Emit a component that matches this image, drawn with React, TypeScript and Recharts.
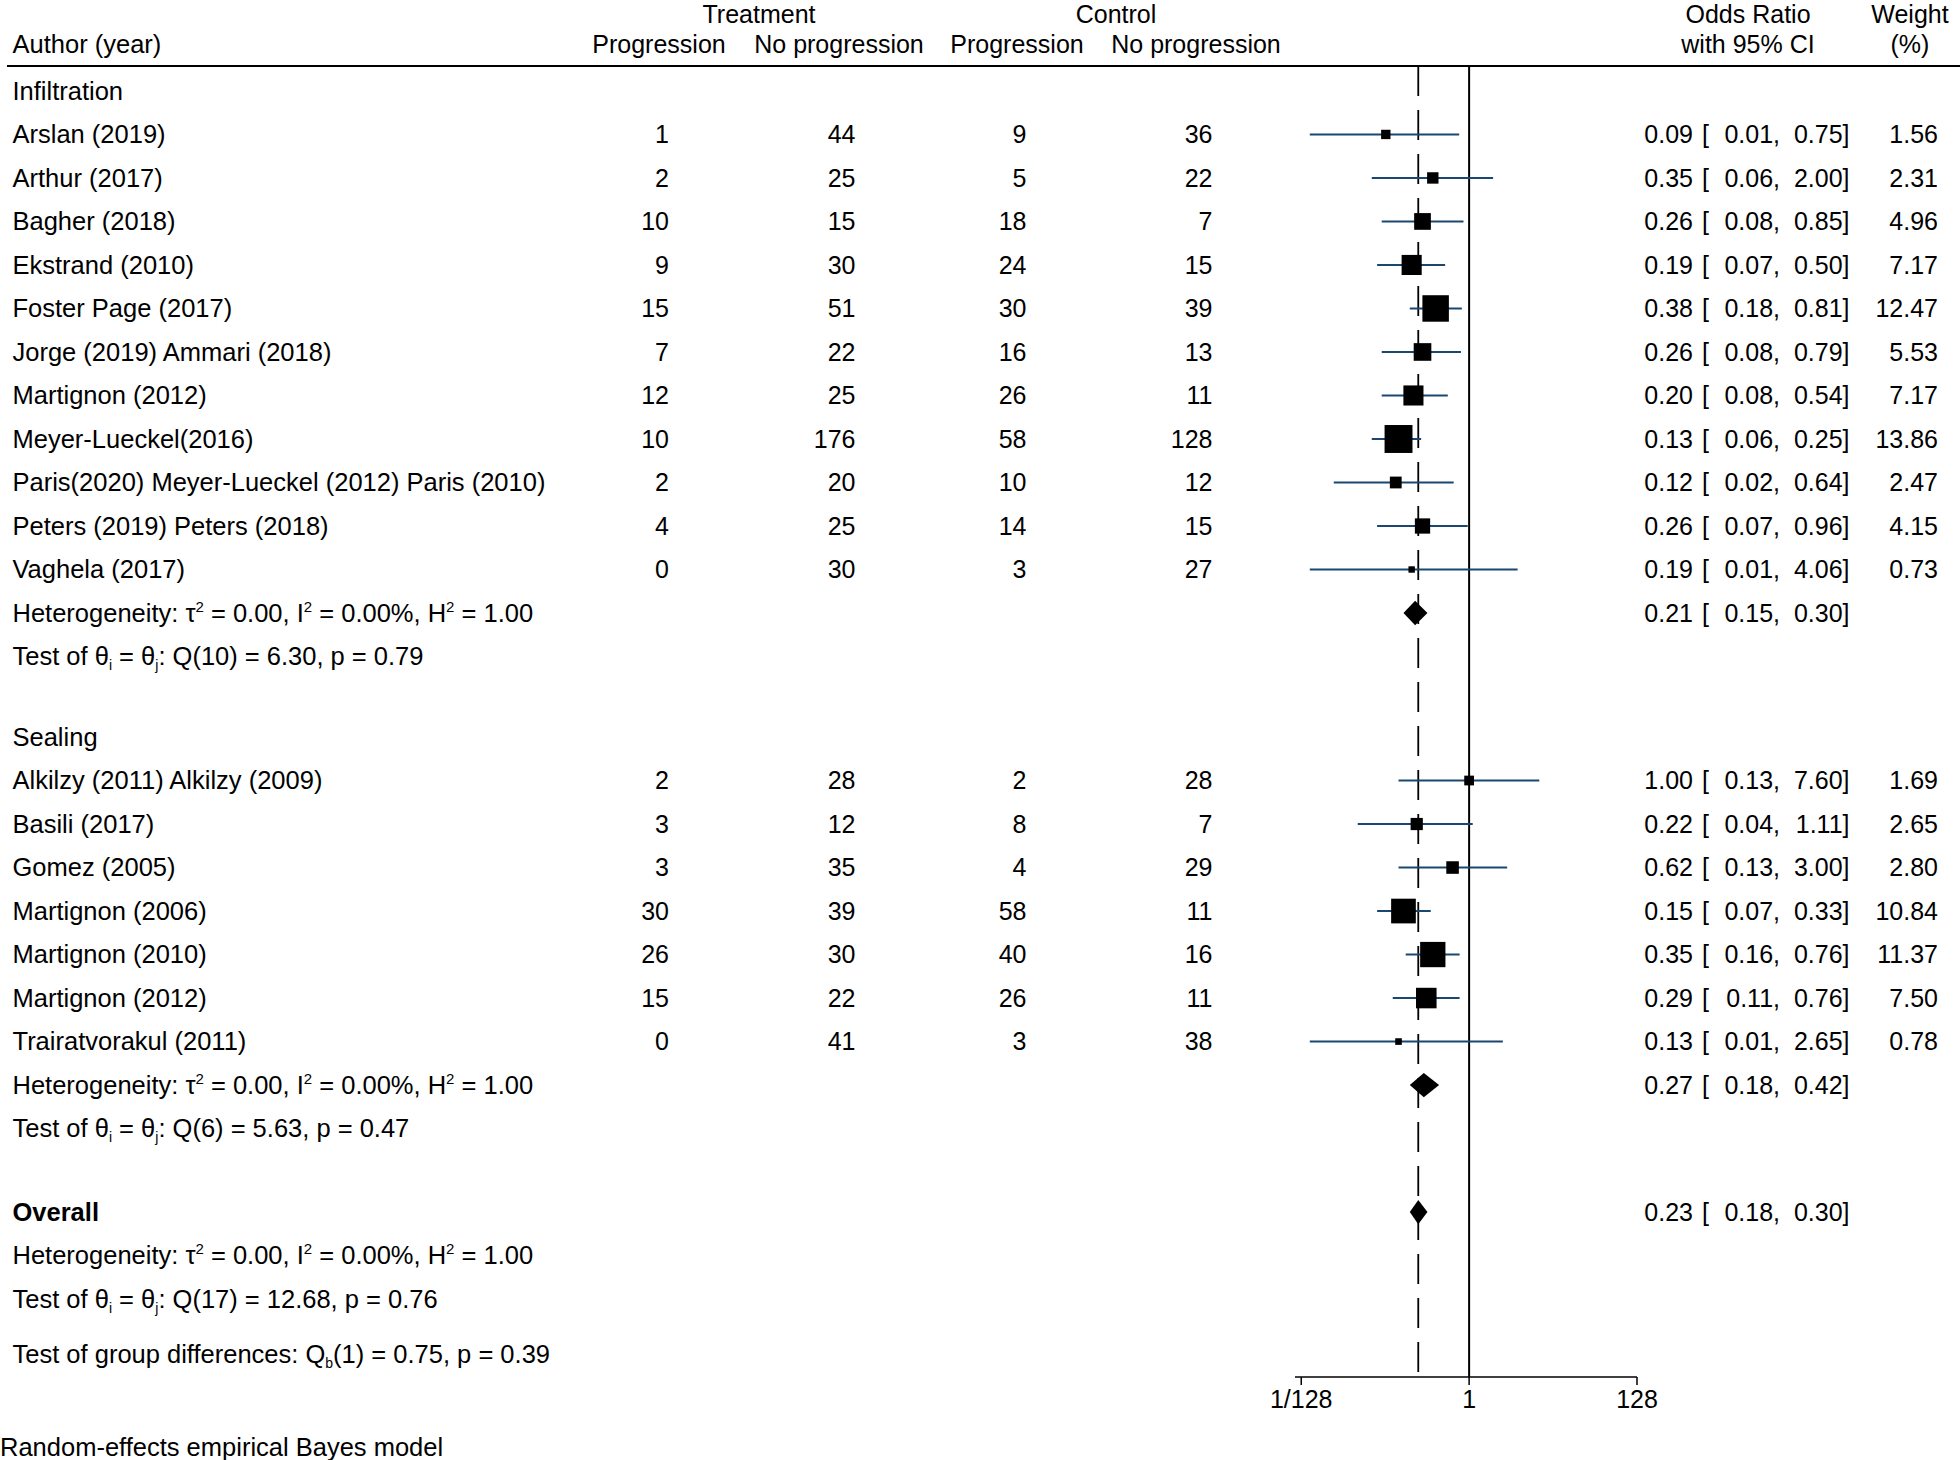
import React from "react";
import {
  ScatterChart,
  Scatter,
  XAxis,
  YAxis,
  ErrorBar,
  ReferenceLine,
  ReferenceArea,
} from "recharts";

const W = 1960;
const H = 1460;
const FONT = '"Liberation Sans", Arial, Helvetica, sans-serif';
const FS = 25;
const FS_LEFT = 25.5;
const CI_BLUE = "#1a476f";

// header texts
const colGroupLabels = ["Treatment", "Control"];
const colLabels = ["Progression", "No progression", "Progression", "No progression"];
const authorLabel = "Author (year)";
const ciLabels = ["Odds Ratio", "with 95% CI"];
const weightLabels = ["Weight", "(%)"];

// Infiltration
const infStudies = [
  "Arslan (2019)",
  "Arthur (2017)",
  "Bagher (2018)",
  "Ekstrand (2010)",
  "Foster Page (2017)",
  "Jorge (2019) Ammari (2018)",
  "Martignon (2012)",
  "Meyer-Lueckel(2016)",
  "Paris(2020) Meyer-Lueckel (2012) Paris (2010)",
  "Peters (2019) Peters (2018)",
  "Vaghela (2017)",
];
const infTreatProg = [1, 2, 10, 9, 15, 7, 12, 10, 2, 4, 0];
const infTreatNo = [44, 25, 15, 30, 51, 22, 25, 176, 20, 25, 30];
const infCtrlProg = [9, 5, 18, 24, 30, 16, 26, 58, 10, 14, 3];
const infCtrlNo = [36, 22, 7, 15, 39, 13, 11, 128, 12, 15, 27];
const infOR = [0.09, 0.35, 0.26, 0.19, 0.38, 0.26, 0.2, 0.13, 0.12, 0.26, 0.19];
const infLo = [0.01, 0.06, 0.08, 0.07, 0.18, 0.08, 0.08, 0.06, 0.02, 0.07, 0.01];
const infHi = [0.75, 2.0, 0.85, 0.5, 0.81, 0.79, 0.54, 0.25, 0.64, 0.96, 4.06];
const infWeight = [1.56, 2.31, 4.96, 7.17, 12.47, 5.53, 7.17, 13.86, 2.47, 4.15, 0.73];

// Sealing
const sealStudies = [
  "Alkilzy (2011) Alkilzy (2009)",
  "Basili (2017)",
  "Gomez (2005)",
  "Martignon (2006)",
  "Martignon (2010)",
  "Martignon (2012)",
  "Trairatvorakul (2011)",
];
const sealTreatProg = [2, 3, 3, 30, 26, 15, 0];
const sealTreatNo = [28, 12, 35, 39, 30, 22, 41];
const sealCtrlProg = [2, 8, 4, 58, 40, 26, 3];
const sealCtrlNo = [28, 7, 29, 11, 16, 11, 38];
const sealOR = [1.0, 0.22, 0.62, 0.15, 0.35, 0.29, 0.13];
const sealLo = [0.13, 0.04, 0.13, 0.07, 0.16, 0.11, 0.01];
const sealHi = [7.6, 1.11, 3.0, 0.33, 0.76, 0.76, 2.65];
const sealWeight = [1.69, 2.65, 2.8, 10.84, 11.37, 7.5, 0.78];

// subgroup summaries
const groupNames = ["Infiltration", "Sealing"];
const groupOR = [0.21, 0.27];
const groupLo = [0.15, 0.18];
const groupHi = [0.3, 0.42];
const groupTau2 = [0.0, 0.0];
const groupI2 = [0.0, 0.0];
const groupH2 = [1.0, 1.0];
const groupQdf = [10, 6];
const groupQ = [6.3, 5.63];
const groupP = [0.79, 0.47];

// overall
const overallLabel = "Overall";
const overallOR = 0.23;
const overallLo = 0.18;
const overallHi = 0.3;
const overallTau2 = 0.0;
const overallI2 = 0.0;
const overallH2 = 1.0;
const overallQdf = 17;
const overallQ = 12.68;
const overallP = 0.76;
const diffDf = 1;
const diffQ = 0.75;
const diffP = 0.39;

// axis (log2 odds ratio)
const axisTicks = [-7, 0, 7];
const axisTickLabels = ["1/128", "1", "128"];
const footnote = "Random-effects empirical Bayes model";

// layout, in row units
const ROW_TOP = -2.09;
const ROW_BOTTOM = 29.56;
const HEAD1_ROW = -1.76;
const HEAD2_ROW = -1.08;
const RULE_ROW = -0.574;
const GAP_GROUP = 0.85;
const GAP_OVERALL = 0.92;
const GAP_DIFF = 0.27;
const DIAMOND_HALF = 0.28;
const SQ_K = 7.5;

const COUNT_X = [669, 855.5, 1026.5, 1212.5];
const LEFT_X = 12.5;
const BASE = FS * 0.35;

const f2 = (v: number) => v.toFixed(2);

const groups = [
  { studies: infStudies, tp: infTreatProg, tn: infTreatNo, cp: infCtrlProg, cn: infCtrlNo, or: infOR, lo: infLo, hi: infHi, w: infWeight },
  { studies: sealStudies, tp: sealTreatProg, tn: sealTreatNo, cp: sealCtrlProg, cn: sealCtrlNo, or: sealOR, lo: sealLo, hi: sealHi, w: sealWeight },
];

type Seg = { t: string; sup?: boolean; sub?: boolean };

const hetSegs = (t2: number, i2: number, h2: number): Seg[] => [
  { t: "Heterogeneity: \u03c4" },
  { t: "2", sup: true },
  { t: ` = ${f2(t2)}, I` },
  { t: "2", sup: true },
  { t: ` = ${f2(i2)}%, H` },
  { t: "2", sup: true },
  { t: ` = ${f2(h2)}` },
];
const testSegs = (df: number, q: number, p: number): Seg[] => [
  { t: "Test of \u03b8" },
  { t: "i", sub: true },
  { t: " = \u03b8" },
  { t: "j", sub: true },
  { t: `: Q(${df}) = ${f2(q)}, p = ${f2(p)}` },
];
const diffSegs: Seg[] = [
  { t: "Test of group differences: Q" },
  { t: "b", sub: true },
  { t: `(${diffDf}) = ${f2(diffQ)}, p = ${f2(diffP)}` },
];

const textRows: any[] = [
  { x: 0, y: HEAD1_ROW, kind: "head1" },
  { x: 0, y: HEAD2_ROW, kind: "head2" },
  { x: 0, y: RULE_ROW, kind: "rule" },
];
const studyPoints: any[] = [];
const diamonds: any[] = [];

let r = 0;
groups.forEach((g, gi) => {
  if (gi > 0) r += GAP_GROUP;
  textRows.push({ x: 0, y: r, kind: "title", label: groupNames[gi] });
  r += 1;
  g.studies.forEach((name, i) => {
    const lx = Math.log2(g.or[i]);
    textRows.push({
      x: 0, y: r, kind: "study", label: name,
      counts: [g.tp[i], g.tn[i], g.cp[i], g.cn[i]],
      est: g.or[i], lo: g.lo[i], hi: g.hi[i], w: g.w[i],
    });
    studyPoints.push({ x: lx, y: r, w: g.w[i], err: [lx - Math.log2(g.lo[i]), Math.log2(g.hi[i]) - lx] });
    r += 1;
  });
  textRows.push({ x: 0, y: r, kind: "rich", segs: hetSegs(groupTau2[gi], groupI2[gi], groupH2[gi]), est: groupOR[gi], lo: groupLo[gi], hi: groupHi[gi] });
  diamonds.push({ y: r, est: groupOR[gi], lo: groupLo[gi], hi: groupHi[gi] });
  r += 1;
  textRows.push({ x: 0, y: r, kind: "rich", segs: testSegs(groupQdf[gi], groupQ[gi], groupP[gi]) });
  r += 1;
});
r += GAP_OVERALL;
textRows.push({ x: 0, y: r, kind: "title", bold: true, label: overallLabel, est: overallOR, lo: overallLo, hi: overallHi });
diamonds.push({ y: r, est: overallOR, lo: overallLo, hi: overallHi });
r += 1;
textRows.push({ x: 0, y: r, kind: "rich", segs: hetSegs(overallTau2, overallI2, overallH2) });
r += 1;
textRows.push({ x: 0, y: r, kind: "rich", segs: testSegs(overallQdf, overallQ, overallP) });
r += 1;
r += GAP_DIFF;
textRows.push({ x: 0, y: r, kind: "rich", segs: diffSegs });

function RichText({ x, y, segs }: { x: number; y: number; segs: Seg[] }) {
  let off = 0;
  return (
    <text x={x} y={y} fontSize={FS_LEFT} style={{ whiteSpace: "pre" }}>
      {segs.map((s, i) => {
        const target = s.sup ? -10 : s.sub ? 5 : 0;
        const d = target - off;
        off = target;
        return (
          <tspan key={i} dy={d} fontSize={s.sup ? 15 : s.sub ? 14 : FS_LEFT}>
            {s.t}
          </tspan>
        );
      })}
    </text>
  );
}

function CiText({ y, est, lo, hi }: { y: number; est: number; lo: number; hi: number }) {
  return (
    <>
      <text x={1693} y={y} textAnchor="end">{f2(est)}</text>
      <text x={1702} y={y}>[</text>
      <text x={1780} y={y} textAnchor="end">{f2(lo)},</text>
      <text x={1849.5} y={y} textAnchor="end">{f2(hi)}]</text>
    </>
  );
}

function TextShape(props: any) {
  const { cy, payload: d } = props;
  const y = cy + BASE;
  let body: React.ReactNode = null;
  if (d.kind === "head1") {
    body = (
      <>
        <text x={759} y={y} textAnchor="middle">{colGroupLabels[0]}</text>
        <text x={1116} y={y} textAnchor="middle">{colGroupLabels[1]}</text>
        <text x={1748} y={y} textAnchor="middle">{ciLabels[0]}</text>
        <text x={1910} y={y} textAnchor="middle">{weightLabels[0]}</text>
      </>
    );
  } else if (d.kind === "head2") {
    const cx = [659, 839, 1017, 1196];
    body = (
      <>
        <text x={LEFT_X} y={y} fontSize={FS_LEFT}>{authorLabel}</text>
        {colLabels.map((l, i) => (
          <text key={i} x={cx[i]} y={y} textAnchor="middle">{l}</text>
        ))}
        <text x={1748} y={y} textAnchor="middle">{ciLabels[1]}</text>
        <text x={1910} y={y} textAnchor="middle">{weightLabels[1]}</text>
      </>
    );
  } else if (d.kind === "rule") {
    body = <line x1={7} x2={W} y1={cy} y2={cy} stroke="#000" strokeWidth={2} />;
  } else if (d.kind === "title") {
    body = (
      <>
        <text x={LEFT_X} y={y} fontSize={FS_LEFT} fontWeight={d.bold ? "bold" : "normal"}>{d.label}</text>
        {d.est != null && <CiText y={y} est={d.est} lo={d.lo} hi={d.hi} />}
      </>
    );
  } else if (d.kind === "study") {
    body = (
      <>
        <text x={LEFT_X} y={y} fontSize={FS_LEFT}>{d.label}</text>
        {d.counts.map((c: number, i: number) => (
          <text key={i} x={COUNT_X[i]} y={y} textAnchor="end">{c}</text>
        ))}
        <CiText y={y} est={d.est} lo={d.lo} hi={d.hi} />
        <text x={1938} y={y} textAnchor="end">{f2(d.w)}</text>
      </>
    );
  } else if (d.kind === "rich") {
    body = (
      <>
        <RichText x={LEFT_X} y={y} segs={d.segs} />
        {d.est != null && <CiText y={y} est={d.est} lo={d.lo} hi={d.hi} />}
      </>
    );
  }
  return (
    <g fontFamily={FONT} fontSize={FS} fill="#000">
      {body}
    </g>
  );
}

function Square(props: any) {
  const s = SQ_K * Math.sqrt(props.payload.w);
  return <rect x={props.cx - s / 2} y={props.cy - s / 2} width={s} height={s} fill="#000" />;
}

function diamondShape(frac: number) {
  return (p: any) => {
    const mx = p.x + p.width * frac;
    const my = p.y + p.height / 2;
    return (
      <polygon
        points={`${p.x},${my} ${mx},${p.y} ${p.x + p.width},${my} ${mx},${p.y + p.height}`}
        fill="#000"
      />
    );
  };
}

export default function App() {
  const overallX = Math.log2(overallOR);
  return (
    <div
      style={{
        position: "absolute",
        left: 0,
        top: 0,
        width: W,
        height: H,
        background: "#fff",
        fontFamily: FONT,
        overflow: "hidden",
      }}
    >
      <ScatterChart width={W} height={H} margin={{ top: 0, right: 323, bottom: 53, left: 1295 }}>
        <XAxis
          type="number"
          dataKey="x"
          domain={[-7.26, 7]}
          ticks={axisTicks}
          interval={0}
          tickFormatter={(v: number) => axisTickLabels[axisTicks.indexOf(v)]}
          height={30}
          tickSize={8}
          tickMargin={5}
          axisLine={{ stroke: "#000", strokeWidth: 1.5 }}
          tickLine={{ stroke: "#000", strokeWidth: 1.5 }}
          tick={{ fill: "#000", fontSize: FS, fontFamily: FONT }}
        />
        <YAxis type="number" dataKey="y" domain={[ROW_TOP, ROW_BOTTOM]} reversed hide />
        <ReferenceLine
          segment={[{ x: 0, y: RULE_ROW }, { x: 0, y: ROW_BOTTOM }]}
          stroke="#000"
          strokeWidth={2}
          ifOverflow="visible"
        />
        <ReferenceLine
          segment={[{ x: overallX, y: RULE_ROW }, { x: overallX, y: ROW_BOTTOM }]}
          stroke="#000"
          strokeWidth={1.8}
          strokeDasharray="30 14"
          ifOverflow="visible"
        />
        {diamonds.map((d, i) => {
          const a = Math.log2(d.lo);
          const b = Math.log2(d.hi);
          const frac = (Math.log2(d.est) - a) / (b - a);
          return (
            <ReferenceArea
              key={i}
              x1={a}
              x2={b}
              y1={d.y - DIAMOND_HALF}
              y2={d.y + DIAMOND_HALF}
              ifOverflow="visible"
              shape={diamondShape(frac)}
            />
          );
        })}
        <Scatter data={studyPoints} shape={Square} isAnimationActive={false}>
          <ErrorBar dataKey="err" direction="x" width={0} stroke={CI_BLUE} strokeWidth={2} />
        </Scatter>
        <Scatter data={textRows} shape={TextShape} isAnimationActive={false} />
      </ScatterChart>
      <div
        style={{
          position: "absolute",
          left: 0,
          top: 1432,
          fontSize: FS_LEFT,
          lineHeight: "30px",
          whiteSpace: "nowrap",
          color: "#000",
        }}
      >
        {footnote}
      </div>
    </div>
  );
}
